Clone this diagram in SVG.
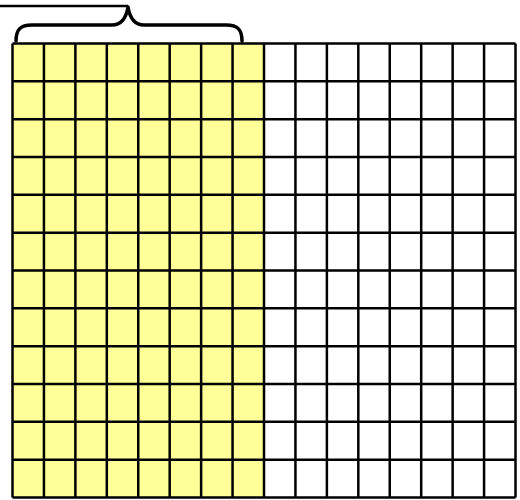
<svg xmlns="http://www.w3.org/2000/svg" width="520" height="500" viewBox="0 0 520 500">
<style>
.grid{fill:none;stroke:#000;stroke-width:2.5}
.brace{fill:none;stroke:#000;stroke-width:3.5;stroke-linecap:round;stroke-linejoin:round}
</style>
<rect width="520" height="500" fill="#fff"/>
<g id="shaded">
<rect x="12.5" y="43.5" width="251.5" height="454" fill="#FFFF99"/>
</g>
<g id="grid">
<path class="grid" d="M12.5,43.5V497.5M43.94,43.5V497.5M75.38,43.5V497.5M106.81,43.5V497.5M138.25,43.5V497.5M169.69,43.5V497.5M201.13,43.5V497.5M232.56,43.5V497.5M264,43.5V497.5M295.44,43.5V497.5M326.88,43.5V497.5M358.31,43.5V497.5M389.75,43.5V497.5M421.19,43.5V497.5M452.63,43.5V497.5M484.06,43.5V497.5M515.5,43.5V497.5"/>
<path class="grid" d="M12.5,43.5H515.5M12.5,81.33H515.5M12.5,119.17H515.5M12.5,157H515.5M12.5,194.83H515.5M12.5,232.67H515.5M12.5,270.5H515.5M12.5,308.33H515.5M12.5,346.17H515.5M12.5,384H515.5M12.5,421.83H515.5M12.5,459.67H515.5M12.5,497.5H515.5"/>
</g>
<g id="brace">
<path class="brace" d="M16,41 C16,30 20,25 32,25 L112,25 C121,25 126,19 128,7 C130,19 135,25 144,25 L226,25 C238,25 242,30 242,41"/>
<path d="M0,6 H128" fill="none" stroke="#000" stroke-width="2.5"/>
</g>
</svg>
